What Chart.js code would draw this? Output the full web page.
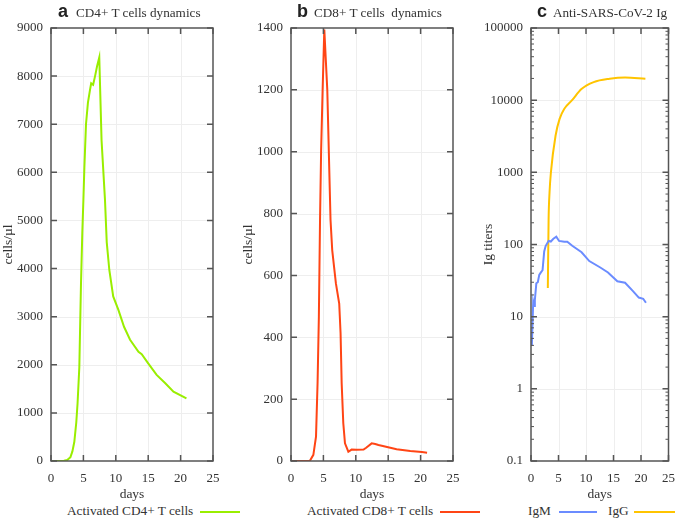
<!DOCTYPE html>
<html><head><meta charset="utf-8">
<script src="https://cdn.jsdelivr.net/npm/chart.js@4"></script>
<style>
body{margin:0;width:685px;height:518px;background:#fff;position:relative;overflow:hidden;font-family:"Liberation Serif","Times New Roman",serif;color:#333}
canvas{position:absolute;top:0}
.t{position:absolute;top:4px;font-size:13.2px;white-space:pre;color:#333;line-height:18px}
.lt{position:absolute;top:2px;font-family:"Liberation Sans",Arial,sans-serif;font-weight:bold;font-size:18px;color:#222;line-height:18px}
.lg{position:absolute;top:503px;font-size:13.3px;white-space:pre;color:#333;line-height:16px}
.ln{position:absolute;top:511px;height:0;border-top:2px solid}
</style></head>
<body>
<canvas id="ca" width="240" height="503" style="left:0"></canvas>
<canvas id="cb" width="240" height="503" style="left:240px"></canvas>
<canvas id="cc" width="205" height="503" style="left:480px"></canvas>

<span class="lt" style="left:58px">a</span><span class="t" style="left:76px">CD4+ T cells dynamics</span>
<span class="lt" style="left:297px">b</span><span class="t" style="left:314px">CD8+ T cells  dynamics</span>
<span class="lt" style="left:537px">c</span><span class="t" style="left:553px">Anti-SARS-CoV-2 Ig</span>

<span class="lg" style="left:67px">Activated CD4+ T cells</span><span class="ln" style="left:200px;width:40px;border-color:#99ee00"></span>
<span class="lg" style="left:307px">Activated CD8+ T cells</span><span class="ln" style="left:440px;width:40px;border-color:#ff4515"></span>
<span class="lg" style="left:528px">IgM</span><span class="ln" style="left:559px;width:38px;border-color:#6b8cff"></span>
<span class="lg" style="left:608px">IgG</span><span class="ln" style="left:634px;width:41px;border-color:#ffc400"></span>

<script>
// ---- data ----
const cd4Days = [0,1,2,2.5,3,3.3,3.6,3.9,4.1,4.37,4.63,4.83,5.0,5.15,5.4,5.7,6.0,6.2,6.5,6.8,7.1,7.45,7.8,8.33,8.6,9.0,9.6,10.4,11.27,12.2,13.5,14.0,15.0,16.3,17.6,18.9,20.9];
const cd4Vals = [0,0,5,20,80,200,400,800,1200,1950,3700,4740,5430,6100,7000,7450,7700,7850,7820,8000,8200,8390,6670,5430,4550,3970,3420,3140,2790,2520,2270,2220,2030,1790,1620,1440,1300];

const cd8Days = [0,2.9,3.45,3.86,4.1,4.3,4.48,4.65,4.88,5.14,5.6,6.1,6.36,6.93,7.44,7.65,7.82,8.07,8.33,8.85,9.35,10.1,11.2,11.6,12.45,13.0,13.5,14.5,16.3,18.4,20.2,21.0];
const cd8Vals = [0,0,20,79,252,466,779,1005,1200,1395,1200,779,682,574,509,413,251,122,57,30,37,36,37,43,57,55,52,47,38,32,29,27];

const igmDays = [0.15,0.3,0.4,0.55,0.7,0.97,1.24,1.5,1.8,2.1,2.4,2.66,3.2,3.6,4.07,4.6,5.1,6.06,6.6,7.5,9.2,10.6,12.6,14.0,15.7,17.1,18.5,19.6,20.4,20.9];
const igmVals = [4,9,16,14,17,29,30,38,41,44,80,95,112,110,120,128,112,109,109,96,78,59,48,41,31,29.5,22.8,18.4,17.7,15.6];

const iggDays = [3.06,3.2,3.37,3.62,4.47,5.2,6.06,7.47,9.17,11.4,14.3,17.1,20.8];
const iggVals = [25,224,525,1000,3240,5500,7600,10000,14300,17800,19800,20600,19800];

const xTicks = [0,5,10,15,20,25];
const yTicksA = [0,1000,2000,3000,4000,5000,6000,7000,8000,9000];
const yTicksB = [0,200,400,600,800,1000,1200,1400];
const yTicksC = [0.1,1,10,100,1000,10000,100000];

// ---- helpers ----
const FONT = {family:'"Liberation Serif","Times New Roman",serif', size:13};
const TFONT = {family:'"Liberation Serif","Times New Roman",serif', size:13.5};
const TXT = '#333';
const pts = (d,v)=>d.map((x,i)=>({x, y:v[i]}));

const framePlugin = {
  id:'frame',
  beforeDatasetsDraw(chart){
    const {ctx, chartArea:a, scales:{x,y}} = chart;
    ctx.save();
    ctx.strokeStyle='#eeeeee'; ctx.lineWidth=1;
    x.ticks.forEach(t=>{
      if(t.value<=x.min||t.value>=x.max) return;
      const p=Math.round(x.getPixelForValue(t.value))+0.5;
      ctx.beginPath(); ctx.moveTo(p,a.top); ctx.lineTo(p,a.bottom); ctx.stroke();
    });
    y.ticks.forEach(t=>{
      if(t.value<=y.min||t.value>=y.max) return;
      const p=Math.round(y.getPixelForValue(t.value))+0.5;
      ctx.beginPath(); ctx.moveTo(a.left,p); ctx.lineTo(a.right,p); ctx.stroke();
    });
    ctx.restore();
  },
  afterDatasetsDraw(chart){
    const {ctx, chartArea:a, scales:{x,y}} = chart;
    ctx.save();
    ctx.strokeStyle='#555'; ctx.lineWidth=1.5;
    const L=6, Ls=3;
    x.ticks.forEach(t=>{
      const p=x.getPixelForValue(t.value);
      ctx.beginPath(); ctx.moveTo(p,a.bottom); ctx.lineTo(p,a.bottom-L);
      ctx.moveTo(p,a.top); ctx.lineTo(p,a.top+L); ctx.stroke();
    });
    y.ticks.forEach(t=>{
      const p=y.getPixelForValue(t.value);
      ctx.beginPath(); ctx.moveTo(a.left,p); ctx.lineTo(a.left+L,p);
      ctx.moveTo(a.right,p); ctx.lineTo(a.right-L,p); ctx.stroke();
    });
    if(y.type==='logarithmic'){
      ctx.lineWidth=1;
      for(let e=-1;e<5;e++){
        for(let m=2;m<10;m++){
          const p=y.getPixelForValue(m*Math.pow(10,e));
          ctx.beginPath(); ctx.moveTo(a.left,p); ctx.lineTo(a.left+Ls,p);
          ctx.moveTo(a.right,p); ctx.lineTo(a.right-Ls,p); ctx.stroke();
        }
      }
    }
    ctx.lineWidth=1.5;
    ctx.strokeRect(a.left,a.top,a.right-a.left,a.bottom-a.top);
    ctx.restore();
  }
};

function makeChart(id, datasets, yOpts, yTitle, padR){
  return new Chart(document.getElementById(id), {
    type:'line',
    data:{datasets},
    options:{
      responsive:false, animation:false,
      layout:{padding:{top:28,right:padR,left:0,bottom:0}},
      plugins:{legend:{display:false}, tooltip:{enabled:false}},
      elements:{point:{radius:0}, line:{borderWidth:2, tension:0}},
      scales:{
        x:{type:'linear', min:0, max:25,
           afterBuildTicks(s){ s.ticks = xTicks.map(v=>({value:v})); },
           ticks:{font:FONT, color:TXT, padding:10, maxRotation:0},
           grid:{display:false, drawTicks:false}, border:{display:false},
           title:{display:true, text:'days', font:TFONT, color:TXT, padding:0},
           afterFit(s){ s.height=42; }
        },
        y:Object.assign({
           ticks:{font:FONT, color:TXT, padding:8, callback:v=>String(v)},
           grid:{display:false, drawTicks:false}, border:{display:false},
           title:{display:true, text:yTitle, font:TFONT, color:TXT, padding:0},
           afterFit(s){ s.width=51; }
        }, yOpts)
      }
    },
    plugins:[framePlugin]
  });
}

makeChart('ca', [{data:pts(cd4Days,cd4Vals), borderColor:'#99ee00'}],
  {type:'linear', min:0, max:9000, afterBuildTicks(s){ s.ticks=yTicksA.map(v=>({value:v})); }},
  'cells/µl', 27);

makeChart('cb', [{data:pts(cd8Days,cd8Vals), borderColor:'#ff4515'}],
  {type:'linear', min:0, max:1400, afterBuildTicks(s){ s.ticks=yTicksB.map(v=>({value:v})); }},
  'cells/µl', 27);

makeChart('cc', [
    {data:pts(igmDays,igmVals), borderColor:'#6b8cff'},
    {data:pts(iggDays,iggVals), borderColor:'#ffc400', cubicInterpolationMode:'monotone'}
  ],
  {type:'logarithmic', min:0.1, max:100000, afterBuildTicks(s){ s.ticks=yTicksC.map(v=>({value:v})); }},
  'Ig titers', 6);
</script>
</body></html>
